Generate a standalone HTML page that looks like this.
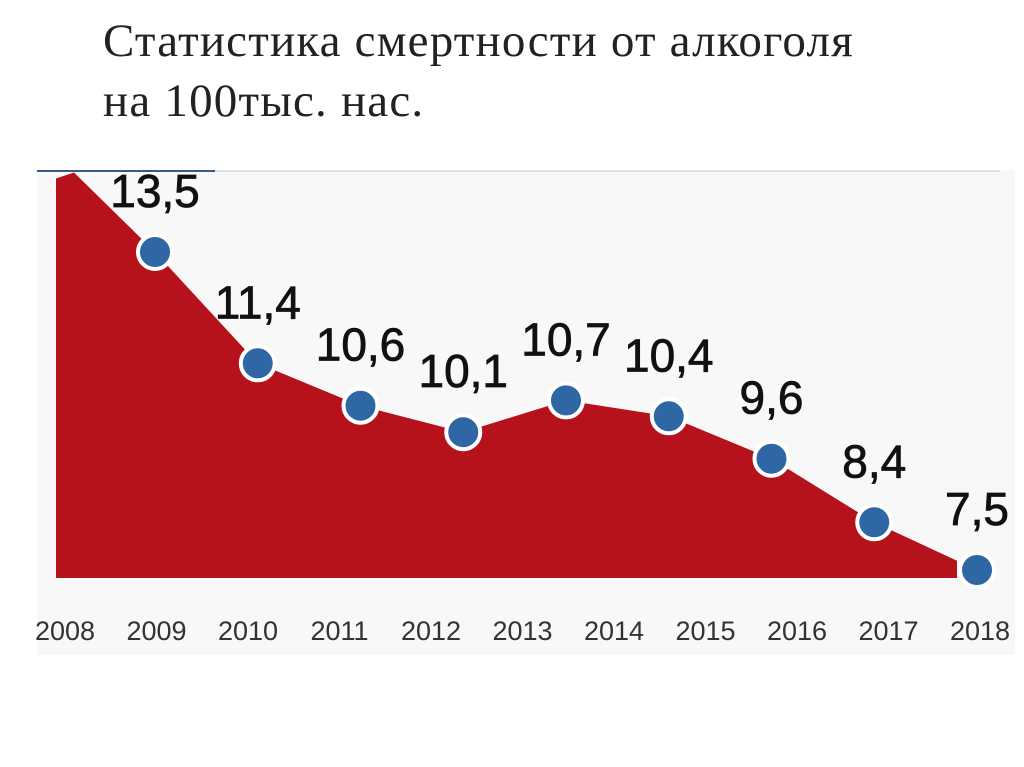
<!DOCTYPE html>
<html><head><meta charset="utf-8"><style>
body{margin:0;width:1024px;height:767px;background:#fff;overflow:hidden;position:relative;font-family:"Liberation Sans",sans-serif}
.t{position:absolute;left:103px;font-family:"Liberation Serif","DejaVu Serif",serif;font-size:47px;letter-spacing:1.2px;color:#222;white-space:nowrap}
</style></head><body>
<div class="t" style="top:14px">Статистика смертности от алкоголя</div>
<div class="t" style="top:74px">на 100тыс. нас.</div>
<svg id="c" width="1024" height="767" style="position:absolute;left:0;top:0">
<rect x="37" y="170" width="978" height="485" fill="#f8f8f8"/>
<line x1="37" y1="171" x2="215" y2="171" stroke="#3a5a8a" stroke-width="2"/>
<line x1="215" y1="171" x2="1000" y2="171" stroke="#ccc" stroke-width="1"/>
<defs><clipPath id="cl"><rect x="0" y="0" width="957" height="767"/></clipPath></defs>
</svg>
<script>
const years=["2008","2009","2010","2011","2012","2013","2014","2015","2016","2017","2018"];
const values=[15.0,13.5,11.4,10.6,10.1,10.7,10.4,9.6,8.4,7.5];
const labels=["13,5","11,4","10,6","10,1","10,7","10,4","9,6","8,4","7,5"];
const NS="http://www.w3.org/2000/svg",svg=document.getElementById('c');
const y=v=>252+(13.5-v)*53;
const xp=i=>i===0?60:155+(i-1)*102.75;
const xy=i=>65+i*91.5;
const base=578;
function mk(t,a){const e=document.createElementNS(NS,t);for(const k in a)e.setAttribute(k,a[k]);svg.appendChild(e);return e;}
let d=`M56,${base} L56,${y(values[0])+6} L${xp(0)+14},${y(values[0])}`;
for(let i=1;i<values.length;i++)d+=` L${xp(i)},${y(values[i])}`;
d+=` L${xp(values.length-1)},${base} Z`;
const area=mk('path',{d:d,fill:'#b5121b','clip-path':'url(#cl)'});


for(let i=1;i<values.length;i++){
 const c=mk('circle',{cx:xp(i),cy:y(values[i]),r:17,fill:'#2f67a5',stroke:'#fff','stroke-width':4});
 
 
 const t=mk('text',{x:xp(i),y:y(values[i])-45,'text-anchor':'middle','font-size':46,fill:'#111','font-family':'Liberation Sans, sans-serif','stroke':'#111','stroke-width':0.8});
 t.textContent=labels[i-1];
 
 
}
years.forEach((yr,i)=>{
 const t=mk('text',{x:xy(i),y:640,'text-anchor':'middle','font-size':27,fill:'#333','font-family':'Liberation Sans, sans-serif'});
 t.textContent=yr;
 
 
});
</script>
</body></html>
